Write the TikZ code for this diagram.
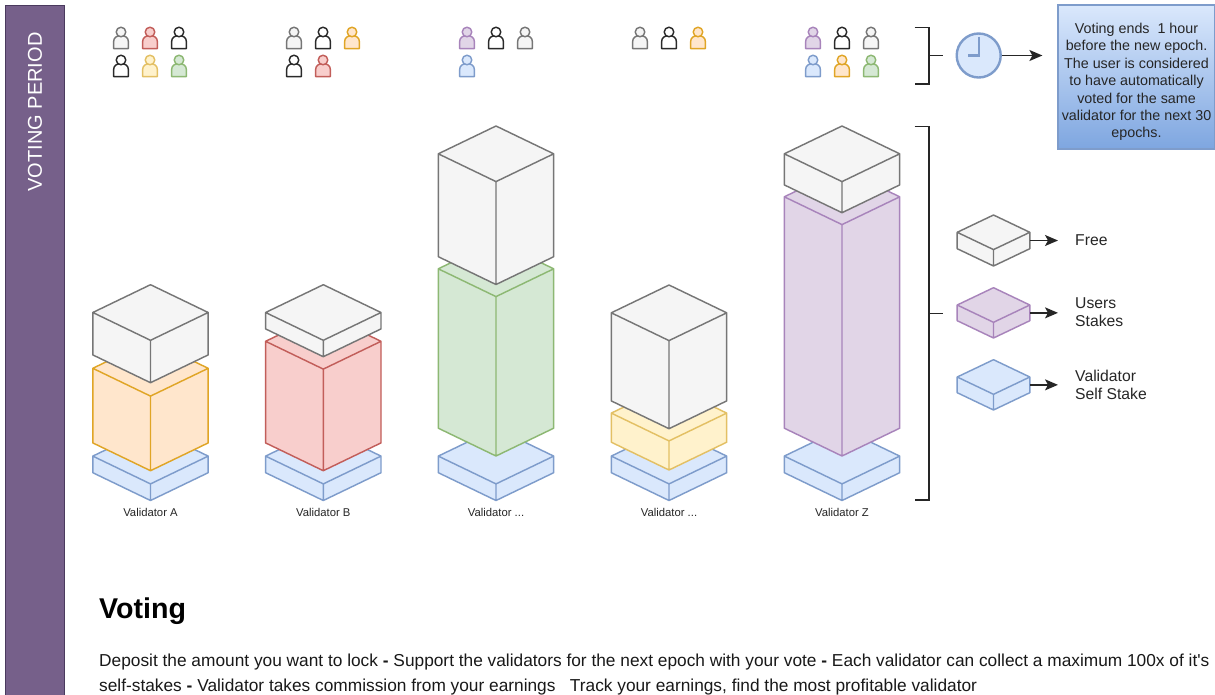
\documentclass[tikz,border=0pt]{standalone}
\usepackage{fontspec}
\setmainfont{Liberation Sans}[Ligatures=TeXOff]
\usetikzlibrary{arrows.meta,shadings}
\definecolor{grayF}{HTML}{F5F5F5}\definecolor{grayS}{HTML}{767676}
\definecolor{blueF}{HTML}{DAE8FC}\definecolor{blueS}{HTML}{7E9CCB}
\definecolor{orangeF}{HTML}{FFE6CC}\definecolor{orangeS}{HTML}{E0A526}
\definecolor{redF}{HTML}{F8CECC}\definecolor{redS}{HTML}{C25E5A}
\definecolor{greenF}{HTML}{D5E8D4}\definecolor{greenS}{HTML}{8DB873}
\definecolor{yellowF}{HTML}{FFF2CC}\definecolor{yellowS}{HTML}{E3C064}
\definecolor{purpleF}{HTML}{E1D5E7}\definecolor{purpleS}{HTML}{A884BB}
\definecolor{blackF}{HTML}{FFFFFF}\definecolor{blackS}{HTML}{2A2A2A}
\definecolor{sideF}{HTML}{76608A}\definecolor{sideS}{HTML}{4A3A5E}
\definecolor{gradB}{HTML}{7EA6E0}
\tikzset{
  x=1pt,y=-1pt,
  cubeline/.style={line width=1.45pt,line join=round},
  personline/.style={line width=1.45pt,line join=round},
  bracketline/.style={line width=1.3pt,black!85},
  arrowline/.style={line width=1.4pt,black!85,-{Stealth[length=13pt,width=11pt,inset=3pt]}},
  vlabel/.style={font=\fontsize{11.3}{13}\selectfont,inner sep=0pt,text=black!85},
  leglabel/.style={font=\fontsize{15.7}{18}\selectfont,inner sep=0pt,anchor=west,align=left,text=black!85},
  bodytext/.style={font=\fontsize{17.3}{20}\selectfont,inner sep=0pt,anchor=base west,text=black!90},
}
% name, cx, apex, bottom, half width, half height, colour prefix
\newcommand{\stakecube}[7]{%
  \fill[#7F] ({#2-#5},{#3+#6}) -- (#2,#3) -- ({#2+#5},{#3+#6}) -- ({#2+#5},{#4-#6}) -- (#2,#4) -- ({#2-#5},{#4-#6}) -- cycle;
  \draw[cubeline,#7S] ({#2-#5},{#3+#6}) -- (#2,#3) -- ({#2+#5},{#3+#6}) -- ({#2+#5},{#4-#6}) -- (#2,#4) -- ({#2-#5},{#4-#6}) -- cycle
    ({#2-#5},{#3+#6}) -- (#2,{#3+2*#6}) -- ({#2+#5},{#3+#6}) (#2,{#3+2*#6}) -- (#2,#4);
  \coordinate (#1) at ({#2+#5},{(#3+#4)/2});
}
% cx, cy, colour prefix
\newcommand{\voter}[3]{%
  \draw[personline,#3S,fill=#3F] ({#1-7.4},{#2+10.6}) -- ({#1-7.4},{#2+4}) .. controls ({#1-7.4},{#2-0.2}) and ({#1-4.8},{#2-2.3}) .. (#1,{#2-2.3}) .. controls ({#1+4.8},{#2-2.3}) and ({#1+7.4},{#2-0.2}) .. ({#1+7.4},{#2+4}) -- ({#1+7.4},{#2+10.6}) -- cycle;
  \draw[personline,#3S,fill=#3F] (#1,{#2-6}) circle (4.8);
}
\begin{document}
\begin{tikzpicture}
\useasboundingbox (0,0) rectangle (1215,694);
\fill[white] (0,0) rectangle (1215,694);
% side bar
\draw[line width=1pt,sideS,fill=sideF] (5.5,720) -- (5.5,5) -- (64,5) -- (64,720);
\node[rotate=90,text=white,font=\fontsize{20}{24}\selectfont,inner sep=0pt] (sidetitle) at (35,112) {VOTING PERIOD};
% voters
\voter{121}{38}{gray}\voter{150}{38}{red}\voter{179}{38}{black}
\voter{121}{66}{black}\voter{150}{66}{yellow}\voter{179}{66}{green}
\voter{294}{38}{gray}\voter{323}{38}{black}\voter{352}{38}{orange}
\voter{294}{66}{black}\voter{323}{66}{red}
\voter{467}{38}{purple}\voter{496}{38}{black}\voter{525}{38}{gray}
\voter{467}{66}{blue}
\voter{640}{38}{gray}\voter{669}{38}{black}\voter{698}{38}{orange}
\voter{813}{38}{purple}\voter{842}{38}{black}\voter{871}{38}{gray}
\voter{813}{66}{blue}\voter{842}{66}{orange}\voter{871}{66}{green}
% columns
\stakecube{a1}{150.5}{428.3}{500.5}{57.7}{27.8}{blue}
\stakecube{a2}{150.5}{340.5}{470.7}{57.7}{27.8}{orange}
\stakecube{a3}{150.5}{284.7}{382.7}{57.7}{27.8}{gray}
\node[vlabel] (la) at (150.5,512.5) {Validator A};
\stakecube{b1}{323.3}{428.3}{500.5}{57.7}{27.8}{blue}
\stakecube{b2}{323.3}{313.5}{470.7}{57.7}{27.8}{red}
\stakecube{b3}{323.3}{284.7}{356.7}{57.7}{27.8}{gray}
\node[vlabel] (lb) at (323.3,512.5) {Validator B};
\stakecube{c1}{496}{428.3}{500.5}{57.7}{27.8}{blue}
\stakecube{c2}{496}{241}{456}{57.7}{27.8}{green}
\stakecube{c3}{496}{126}{284.5}{57.7}{27.8}{gray}
\node[vlabel] (lc) at (496,512.5) {Validator ...};
\stakecube{d1}{669}{428.3}{500.5}{57.7}{27.8}{blue}
\stakecube{d2}{669}{385.3}{470}{57.7}{27.8}{yellow}
\stakecube{d3}{669}{285}{428.7}{57.7}{27.8}{gray}
\node[vlabel] (ld) at (669,512.5) {Validator ...};
\stakecube{z1}{842}{428.3}{500.5}{57.7}{27.8}{blue}
\stakecube{z2}{842}{169}{456}{57.7}{27.8}{purple}
\stakecube{z3}{842}{126}{212.7}{57.7}{27.8}{gray}
\node[vlabel] (lz) at (842,512.5) {Validator Z};
% brackets
\coordinate (brA1) at (914.5,27.5);\coordinate (brA2) at (929,27.5);\coordinate (brA3) at (929,84);\coordinate (brA4) at (914.5,84);
\coordinate (brAm) at (929,55.5);\coordinate (brAt) at (943,55.5);
\draw[bracketline] (brA1) -- (brA2) -- (brA3) -- (brA4) (brAm) -- (brAt);
\coordinate (brB1) at (914.5,126.5);\coordinate (brB2) at (929,126.5);\coordinate (brB3) at (929,500);\coordinate (brB4) at (914.5,500);
\coordinate (brBm) at (929,313.5);\coordinate (brBt) at (943,313.5);
\draw[bracketline] (brB1) -- (brB2) -- (brB3) -- (brB4) (brBm) -- (brBt);
% clock
\node[circle,draw=blueS,fill=blueF,line width=2.4pt,minimum size=44pt,inner sep=0pt] (clock) at (978.7,55.5) {};
\coordinate (handT) at (978.7,36.5);\coordinate (handC) at (978.7,55.5);\coordinate (handL) at (968,55.5);
\draw[blueS,line width=2.4pt] (handT) -- (handC) -- (handL);
% note
\node[draw=blueS,line width=1.2pt,top color=blueF,bottom color=gradB,minimum width=157pt,minimum height=144pt,inner sep=0pt] (note) at (1136.5,77) {};
\node[inner sep=0pt,align=center,text=black!85,font=\fontsize{14.3}{17.4}\selectfont] (notetext) at (1136.5,82) {Voting ends\ \ 1 hour\\before the new epoch.\\The user is considered\\to have automatically\\voted for the same\\validator for the next 30\\epochs.};
\draw[arrowline,shorten >=15pt] (clock) -- (clock -| note.west);
% legend
\stakecube{lfree}{993.5}{215}{266}{36.3}{17.3}{gray}
\stakecube{luser}{993.5}{287.7}{338}{36.3}{17.3}{purple}
\stakecube{lself}{993.5}{359.7}{410}{36.3}{17.3}{blue}
\node[leglabel] (tfree) at (1075,240) {Free};
\node[leglabel] (tuser) at (1075,312.5) {Users\\Stakes};
\node[leglabel] (tself) at (1075,384.5) {Validator\\Self Stake};
\draw[arrowline,shorten >=17pt] (lfree) -- (lfree -| tfree.west);
\draw[arrowline,shorten >=17pt] (luser) -- (luser -| tuser.west);
\draw[arrowline,shorten >=17pt] (lself) -- (lself -| tself.west);
% text
\node[font=\bfseries\fontsize{28.6}{32}\selectfont,inner sep=0pt,anchor=base west] (head) at (99,618) {Voting};
\node[bodytext] (line1) at (99,666) {Deposit the amount you want to lock \textbf{-} Support the validators for the next epoch with your vote \textbf{-} Each validator can collect a maximum 100x of it's};
\node[bodytext] (line2) at (99,691) {self-stakes \textbf{-} Validator takes commission from your earnings\ \ \ Track your earnings, find the most profitable validator};
\end{tikzpicture}
\end{document}
